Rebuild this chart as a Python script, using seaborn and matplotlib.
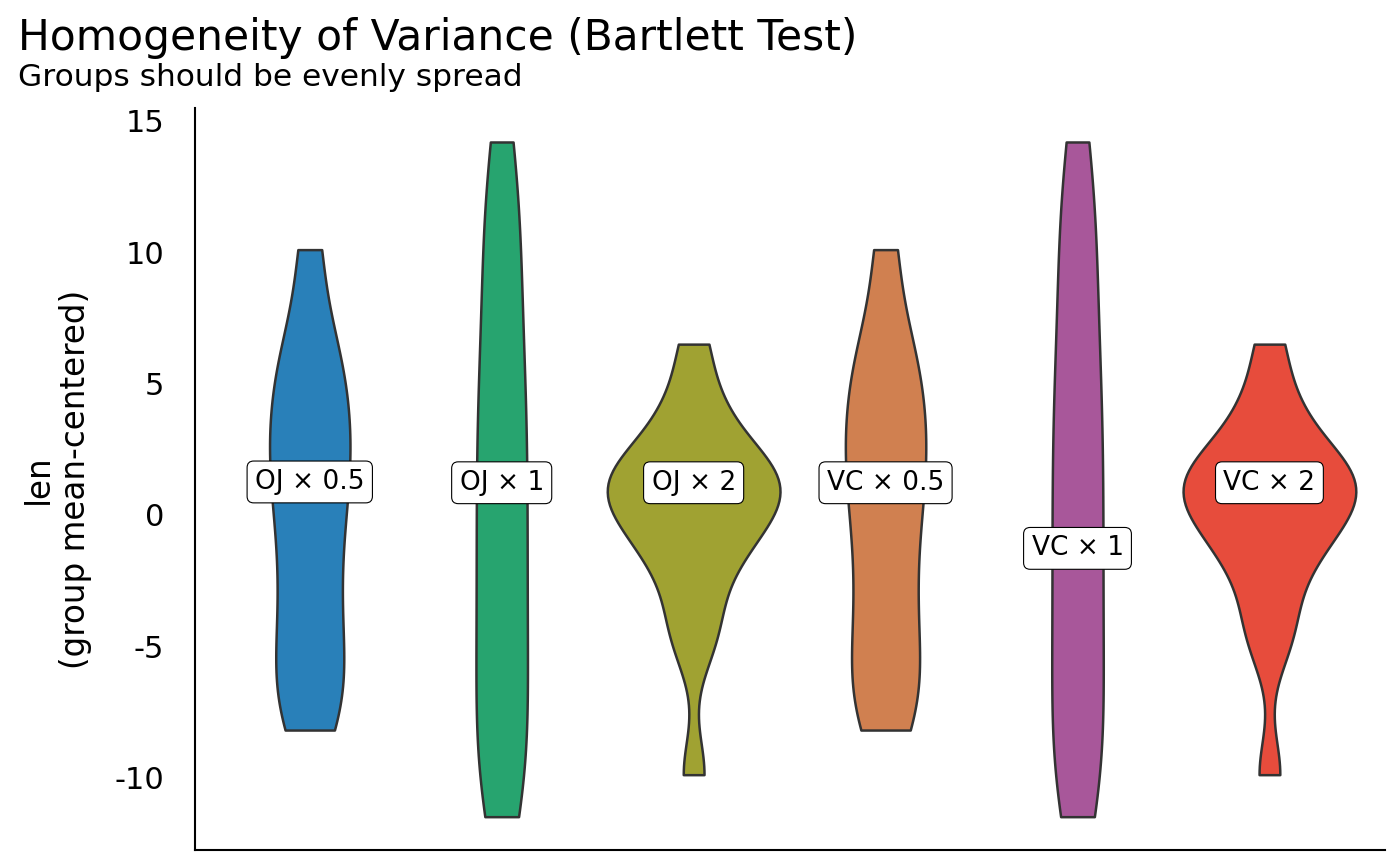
import numpy as np
import pandas as pd
import matplotlib.pyplot as plt
import seaborn as sns

# groups (supp x dose) and their mean-centered values
groups = ["OJ × 0.5", "OJ × 1", "OJ × 2", "VC × 0.5", "VC × 1", "VC × 2"]

oj_05 = [10.1, 6.8, 5.8, 4.5, 3.5, 2.5, 1.5, 0.5, -0.8, -2.2, -3.6, -5.0, -6.2, -7.3, -8.2]
oj_1 = [-11.5, -10.2, -9.0, -7.5, -6.0, -4.5, -3.0, -1.5, 0.0, 1.5, 3.0, 4.5, 6.0, 8.0, 10.0, 11.7, 14.2]
oj_2 = [-9.9, -5.0, -4.0, -2.5, -1.5, -1.0, -0.5, 0.0, 0.5, 1.0, 1.0, 1.3, 1.6, 2.0, 2.5, 3.5, 4.5, 6.5]
vc_05 = [10.1, 6.8, 5.8, 4.5, 3.5, 2.5, 1.5, 0.5, -0.8, -2.2, -3.6, -5.0, -6.2, -7.3, -8.2]
vc_1 = [-11.5, -10.2, -9.0, -7.5, -6.0, -4.5, -3.0, -1.5, 0.0, 1.5, 3.0, 4.5, 6.0, 8.0, 10.0, 11.7, 14.2]
vc_2 = [-9.9, -5.0, -4.0, -2.5, -1.5, -1.0, -0.5, 0.0, 0.5, 1.0, 1.0, 1.3, 1.6, 2.0, 2.5, 3.5, 4.5, 6.5]

label_y = [1.25, 1.22, 1.22, 1.22, -1.28, 1.22]
colors = ["#2980B9", "#27A46F", "#A0A232", "#D08050", "#A8579A", "#E74C3C"]

values = dict(zip(groups, [oj_05, oj_1, oj_2, vc_05, vc_1, vc_2]))
df = pd.DataFrame([(g, v) for g in groups for v in values[g]], columns=["group", "len_c"])

sns.set_style("white")
plt.rcParams["font.family"] = ["DejaVu Sans"]
plt.rcParams["axes.unicode_minus"] = False
plt.rcParams["text.color"] = "black"
plt.rcParams["axes.labelcolor"] = "black"
plt.rcParams["ytick.color"] = "black"

fig, ax = plt.subplots(figsize=(14, 8.66), dpi=100)
fig.subplots_adjust(left=0.139, right=0.989, bottom=0.018, top=0.875)

sns.violinplot(data=df, x="group", y="len_c", hue="group", order=groups, hue_order=groups,
               palette=colors, saturation=1, cut=0, inner=None, bw_method=0.37,
               density_norm="area", common_norm=True,
               width=0.9, linewidth=1.8, linecolor="#333333", legend=False, ax=ax)

# group labels
for i, (g, yv) in enumerate(zip(groups, label_y)):
    ax.text(i, yv, g, ha="center", va="center", fontsize=19,
            bbox=dict(boxstyle="round,pad=0.3,rounding_size=0.25", fc="white", ec="black", lw=0.8))

ax.set_xlim(-0.6, 5.6)
ax.set_ylim(-12.785, 15.485)
ax.set_xticks([])
ax.set_xlabel("")
ax.set_yticks([-10, -5, 0, 5, 10, 15])
ax.tick_params(axis="y", length=0, pad=22, labelsize=22)
ax.set_ylabel("len\n(group mean-centered)", fontsize=23.5, labelpad=16, linespacing=1.15)
for s in ["top", "right"]:
    ax.spines[s].set_visible(False)
for s in ["left", "bottom"]:
    ax.spines[s].set_color("black")
    ax.spines[s].set_linewidth(1.5)

fig.text(0.013, 0.942, "Homogeneity of Variance (Bartlett Test)", fontsize=30.5, va="baseline")
fig.text(0.013, 0.901, "Groups should be evenly spread", fontsize=22.5, va="baseline")

plt.savefig("out.png", dpi=100)
